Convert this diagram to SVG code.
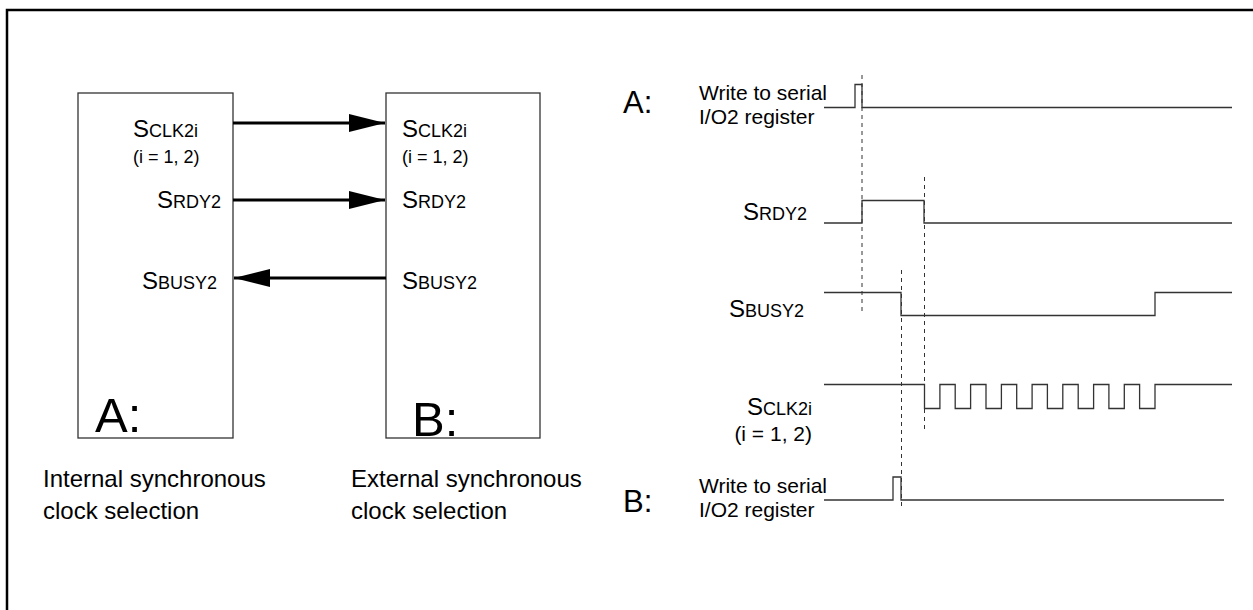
<svg xmlns="http://www.w3.org/2000/svg" width="1253" height="610" viewBox="0 0 1253 610">
<style>
text{font-family:"Liberation Sans",Arial,sans-serif;fill:#000}
.box{fill:none;stroke:#333;stroke-width:1.3}
.arr{stroke:#000;stroke-width:3;fill:none}
.sig{fill:none;stroke:#333;stroke-width:1.3}
.dash{fill:none;stroke:#333;stroke-width:1;stroke-dasharray:4,4}
.big{font-size:24px}
.sm{font-size:18px}
.cap{font-size:21px}
.lab{font-size:49px}
.ab{font-size:31px}
</style>
<defs>
<marker id="ah" markerWidth="12" markerHeight="6" refX="12" refY="3" orient="auto" markerUnits="strokeWidth">
<path d="M0,0 L12,3 L0,6 Z" fill="#000"/>
</marker>
</defs>
<rect x="7" y="10" width="1260" height="620" fill="none" stroke="#000" stroke-width="2.5"/>
<g id="boxA">
<rect class="box" x="78" y="93" width="155" height="345"/>
<text x="198" y="137" text-anchor="end" class="big">S<tspan class="sm">CLK2i</tspan></text>
<text x="133" y="163" class="sm">(i = 1, 2)</text>
<text x="221" y="208" text-anchor="end" class="big">S<tspan class="sm">RDY2</tspan></text>
<text x="217" y="289" text-anchor="end" class="big">S<tspan class="sm">BUSY2</tspan></text>
<text x="95" y="432" class="lab">A:</text>
</g>
<g id="boxB">
<rect class="box" x="386" y="93" width="154" height="345"/>
<text x="402" y="137" class="big">S<tspan class="sm">CLK2i</tspan></text>
<text x="402" y="163" class="sm">(i = 1, 2)</text>
<text x="402" y="208" class="big">S<tspan class="sm">RDY2</tspan></text>
<text x="402" y="289" class="big">S<tspan class="sm">BUSY2</tspan></text>
<text x="412" y="436" class="lab">B:</text>
</g>
<g id="captions">
<text x="43" y="487" class="big">Internal synchronous</text>
<text x="43" y="519" class="big">clock selection</text>
<text x="351" y="487" class="big">External synchronous</text>
<text x="351" y="519" class="big">clock selection</text>
</g>
<g id="connectors">
<line class="arr" x1="233" y1="123" x2="385" y2="123" marker-end="url(#ah)"/>
<line class="arr" x1="233" y1="200" x2="385" y2="200" marker-end="url(#ah)"/>
<line class="arr" x1="386" y1="278" x2="234" y2="278" marker-end="url(#ah)"/>
</g>
<g id="timing">
<text x="623" y="113" class="ab">A:</text>
<text x="699" y="100" class="cap">Write to serial</text>
<text x="699" y="124" class="cap">I/O2 register</text>
<polyline class="sig" points="824,107.5 855,107.5 855,84.5 862,84.5 862,107.5 1232,107.5"/>
<text x="807" y="220" text-anchor="end" class="big">S<tspan class="sm">RDY2</tspan></text>
<polyline class="sig" points="824,223 862,223 862,200.5 924,200.5 924,223 1232,223"/>
<text x="804" y="317" text-anchor="end" class="big">S<tspan class="sm">BUSY2</tspan></text>
<polyline class="sig" points="824,292.5 901,292.5 901,315.5 1155,315.5 1155,292.5 1232,292.5"/>
<text x="812" y="415" text-anchor="end" class="big">S<tspan class="sm">CLK2i</tspan></text>
<text x="812" y="441" text-anchor="end" class="cap">(i = 1, 2)</text>
<polyline class="sig" points="824,384.5 924.5,384.5 924.5,408.5 939.9,408.5 939.9,384.5 955.2,384.5 955.2,408.5 970.6,408.5 970.6,384.5 986,384.5 986,408.5 1001.4,408.5 1001.4,384.5 1016.7,384.5 1016.7,408.5 1032.1,408.5 1032.1,384.5 1047.4,384.5 1047.4,408.5 1062.8,408.5 1062.8,384.5 1078.2,384.5 1078.2,408.5 1093.6,408.5 1093.6,384.5 1108.9,384.5 1108.9,408.5 1124.3,408.5 1124.3,384.5 1139.6,384.5 1139.6,408.5 1155,408.5 1155,384.5 1232,384.5"/>
<text x="623" y="512" class="ab">B:</text>
<text x="699" y="493" class="cap">Write to serial</text>
<text x="699" y="517" class="cap">I/O2 register</text>
<polyline class="sig" points="824,500 893,500 893,477 901,477 901,500 1224,500"/>
<line class="dash" x1="862" y1="75" x2="862" y2="313"/>
<line class="dash" x1="924.5" y1="177" x2="924.5" y2="432"/>
<line class="dash" x1="901.5" y1="270" x2="901.5" y2="509"/>
</g>
</svg>
